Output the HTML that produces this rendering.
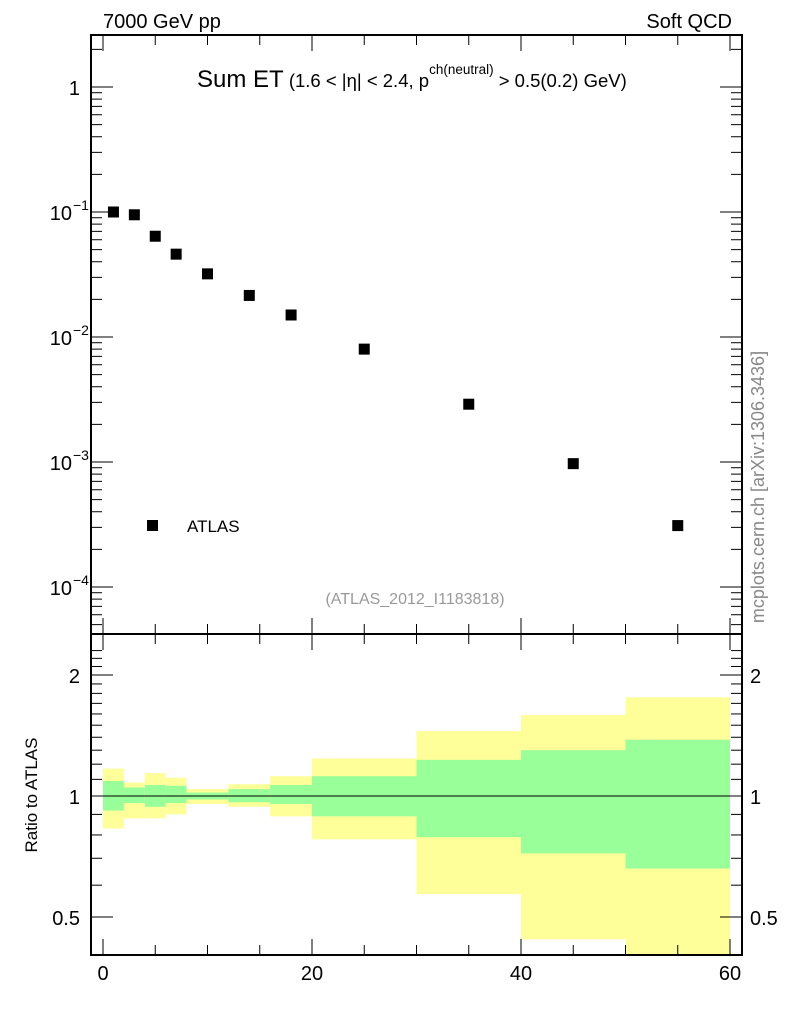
<!DOCTYPE html>
<html><head><meta charset="utf-8"><style>
html,body{margin:0;padding:0;background:#fff;}
svg text{font-family:"Liberation Sans",sans-serif;}
</style></head><body>
<svg id="c" width="786" height="1024" xmlns="http://www.w3.org/2000/svg">
<text x="103" y="28" font-size="20">7000 GeV pp</text>
<text x="732" y="28" font-size="20" text-anchor="end">Soft QCD</text>
<text x="197" y="87" font-size="24">Sum ET<tspan font-size="18.5"> (1.6 &lt; |η| &lt; 2.4, p</tspan><tspan font-size="13.5" dy="-13">ch(neutral)</tspan><tspan font-size="18.5" dy="13"> &gt; 0.5(0.2) GeV)</tspan></text>
<text x="415" y="604" font-size="16" fill="#999" text-anchor="middle">(ATLAS_2012_I1183818)</text>
<text transform="translate(764,487) rotate(-90)" font-size="18" fill="#888" text-anchor="middle">mcplots.cern.ch [arXiv:1306.3436]</text>
<text transform="translate(37,795) rotate(-90)" font-size="17" text-anchor="middle">Ratio to ATLAS</text>
<rect x="147" y="520" width="11" height="11" fill="#000"/>
<text x="187" y="532" font-size="17">ATLAS</text>
<g id="g"></g>
</svg>
<script>
const xVals=[1,3,5,7,10,14,18,25,35,45,55];
const yVals=[0.1,0.095,0.064,0.046,0.032,0.0215,0.015,0.008,0.0029,0.00097,0.00031];
const binEdges=[0,2,4,6,8,12,16,20,30,40,50,60];
const yelLo=[0.83,0.88,0.88,0.9,0.955,0.94,0.89,0.78,0.57,0.44,0.3];
const yelHi=[1.17,1.08,1.14,1.11,1.04,1.07,1.12,1.24,1.45,1.59,1.76];
const grnLo=[0.92,0.96,0.94,0.96,0.98,0.965,0.955,0.89,0.79,0.72,0.66];
const grnHi=[1.09,1.05,1.065,1.06,1.02,1.04,1.065,1.12,1.23,1.30,1.38];
const xTicks=[0,20,40,60];
const yTickLabels=["1","10","10","10","10"];
const NS="http://www.w3.org/2000/svg";
const g=document.getElementById('g');
const L=91,R=742,T=35,M=634,B=955;
const X=v=>103+v*(730-103)/60;
const Y=v=>87-Math.log10(v)*125;
const RY=v=>796-Math.log10(v)*402;
function el(t,a,p){const e=document.createElementNS(NS,t);for(const k in a)e.setAttribute(k,a[k]);(p||g).appendChild(e);return e;}
for(let i=0;i<binEdges.length-1;i++){
 const x0=X(binEdges[i]),x1=X(binEdges[i+1]);
 const y1=Math.max(RY(yelHi[i]),M),y2=Math.min(RY(yelLo[i]),B);
 const r=el('rect',{x:x0,y:y1,width:x1-x0,height:y2-y1,fill:'#ffff99'});
 
 
 const g1=RY(grnHi[i]),g2=Math.min(RY(grnLo[i]),B);
 const r2=el('rect',{x:x0,y:g1,width:x1-x0,height:g2-g1,fill:'#99ff99'});
 
 
}
el('line',{x1:L,x2:R,y1:RY(1),y2:RY(1),stroke:'#000','stroke-width':1});
const f1=el('rect',{x:L,y:T,width:R-L,height:M-T,fill:'none',stroke:'#000','stroke-width':2});


const f2=el('rect',{x:L,y:M,width:R-L,height:B-M,fill:'none',stroke:'#000','stroke-width':2});


for(let v=0;v<=60;v+=5){
 const maj=v%20==0,x=X(v),l=maj?16:10;
 el('line',{x1:x,x2:x,y1:B,y2:B-l,stroke:'#000'});
 el('line',{x1:x,x2:x,y1:M,y2:M-l,stroke:'#000'});
 el('line',{x1:x,x2:x,y1:M,y2:M+l,stroke:'#000'});
 el('line',{x1:x,x2:x,y1:T,y2:T+l,stroke:'#000'});
}
xTicks.forEach(v=>{const t=el('text',{x:X(v),y:980,'font-size':20,'text-anchor':'middle'});t.textContent=v;
 
 });
for(let e=-5;e<=0;e++){for(let m=1;m<10;m++){const v=m*Math.pow(10,e),y=Y(v);if(y<T||y>M)continue;
 const l=m==1?22:11;
 el('line',{x1:L,x2:L+l,y1:y,y2:y,stroke:'#000'});el('line',{x1:R,x2:R-l,y1:y,y2:y,stroke:'#000'});}}
for(let e=0;e>=-4;e--){const y=Y(Math.pow(10,e));
 const t=el('text',{x:e==0?80:72,y:y+8,'font-size':20,'text-anchor':'end'});
 
 
 t.textContent=yTickLabels[-e];
 if(e<0){const s=el('text',{x:73,y:y-2,'font-size':14});s.textContent='−'+(-e);}}
for(let v=0.3;v<=2.31;v+=0.1){const y=RY(v);if(y<M||y>B)continue;
 const maj=Math.abs(v-0.5)<1e-6||Math.abs(v-1)<1e-6||Math.abs(v-2)<1e-6;const l=maj?22:11;
 el('line',{x1:L,x2:L+l,y1:y,y2:y,stroke:'#000'});el('line',{x1:R,x2:R-l,y1:y,y2:y,stroke:'#000'});}
[[2,'2'],[1,'1'],[0.5,'0.5']].forEach(([v,s])=>{
 const a=el('text',{x:80,y:RY(v)+8,'font-size':20,'text-anchor':'end'});a.textContent=s;
 
 
 const b=el('text',{x:750,y:RY(v)+8,'font-size':20});b.textContent=s;
 
 });
xVals.forEach((v,i)=>{const p=el('rect',{x:X(v)-5.5,y:Y(yVals[i])-5.5,width:11,height:11,fill:'#000'});
 
 });
</script>
</body></html>
